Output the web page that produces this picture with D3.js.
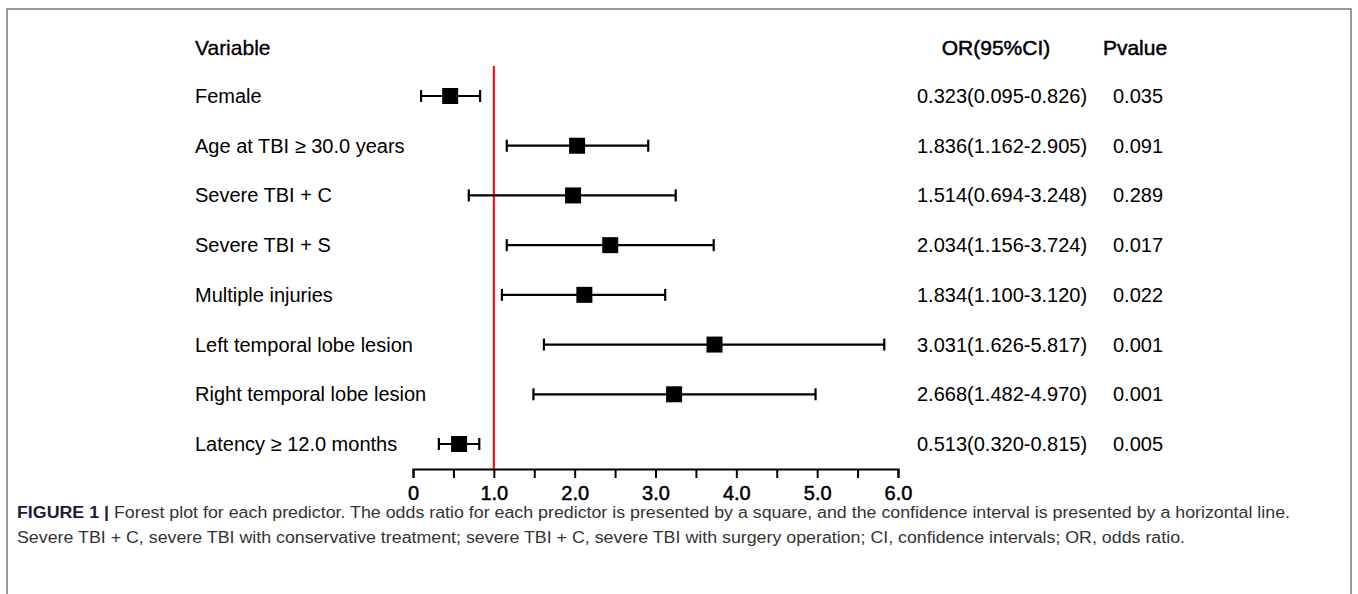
<!DOCTYPE html>
<html>
<head>
<meta charset="utf-8">
<script src="https://cdn.jsdelivr.net/npm/d3@7"></script>
<style>
  body { margin: 0; background: #fff; }
  svg text { font-family: "Liberation Sans", Arial, sans-serif; }
</style>
</head>
<body>
<div id="chart"></div>
<script>
// rows of the forest plot
var variables = ["Female", "Age at TBI \u2265 30.0 years", "Severe TBI + C", "Severe TBI + S",
  "Multiple injuries", "Left temporal lobe lesion", "Right temporal lobe lesion", "Latency \u2265 12.0 months"];
// square positions and CI ends as drawn
var orPlot = [0.46, 2.03, 1.98, 2.44, 2.12, 3.73, 3.23, 0.57];
var ciLow  = [0.10, 1.16, 0.69, 1.16, 1.10, 1.62, 1.49, 0.32];
var ciHigh = [0.83, 2.91, 3.25, 3.72, 3.12, 5.83, 4.98, 0.82];
// right-hand columns
var orText = ["0.323(0.095-0.826)", "1.836(1.162-2.905)", "1.514(0.694-3.248)", "2.034(1.156-3.724)",
  "1.834(1.100-3.120)", "3.031(1.626-5.817)", "2.668(1.482-4.970)", "0.513(0.320-0.815)"];
var pText = ["0.035", "0.091", "0.289", "0.017", "0.022", "0.001", "0.001", "0.005"];
var tickVals = [0, 0.5, 1, 1.5, 2, 2.5, 3, 3.5, 4, 4.5, 5, 5.5, 6];
var captionLines = [
  "Forest plot for each predictor. The odds ratio for each predictor is presented by a square, and the confidence interval is presented by a horizontal line.",
  "Severe TBI + C, severe TBI with conservative treatment; severe TBI + C, severe TBI with surgery operation; CI, confidence intervals; OR, odds ratio."
];

var W = 1358, H = 594;

var svg = d3.select("#chart").append("svg")
    .attr("width", W)
    .attr("height", H);

// figure frame
svg.append("rect")
    .attr("x", 7).attr("y", 9)
    .attr("width", 1344).attr("height", 620)
    .attr("fill", "none")
    .attr("stroke", "#777")
    .attr("stroke-width", 1.5);

var x = d3.scaleLinear().domain([0, 6]).range([413, 898]);
var y = d3.scalePoint().domain(variables).range([96, 444]);
var axisY = 469;

var data = variables.map(function(v, i) {
  return {name: v, or: orPlot[i], lo: ciLow[i], hi: ciHigh[i], ort: orText[i], p: pText[i]};
});

// headers
var headY = 48;
svg.append("text").attr("x", 195).attr("y", headY).attr("dy", "0.35em")
    .style("font-size", "21px").attr("stroke", "#000").attr("stroke-width", 0.3)
    .text("Variable");
svg.append("text").attr("x", 996).attr("y", headY).attr("dy", "0.35em")
    .attr("text-anchor", "middle")
    .style("font-size", "21px").attr("stroke", "#000").attr("stroke-width", 0.5)
    .text("OR(95%CI)");
svg.append("text").attr("x", 1135).attr("y", headY).attr("dy", "0.35em")
    .attr("text-anchor", "middle")
    .style("font-size", "21px").attr("stroke", "#000").attr("stroke-width", 0.5)
    .text("Pvalue");

// reference line at OR = 1
svg.append("line")
    .attr("x1", x(1)).attr("x2", x(1))
    .attr("y1", 66).attr("y2", axisY)
    .attr("stroke", "#f00")
    .attr("stroke-width", 2);

// axis
var axis = svg.append("g")
    .attr("transform", "translate(0," + axisY + ")")
    .call(d3.axisBottom(x)
      .tickValues(tickVals)
      .tickSize(9)
      .tickPadding(8)
      .tickFormat(function(d) { return d % 1 ? "" : (d === 0 ? "0" : d.toFixed(1)); }));
axis.selectAll("path, line").attr("stroke", "#000").attr("stroke-width", 2);
axis.selectAll("text")
    .style("font-size", "20px")
    .style("font-family", "'Liberation Sans', Arial, sans-serif")
    .attr("fill", "#000")
    .attr("stroke", "#000")
    .attr("stroke-width", 0.5);

var rows = svg.selectAll(".row")
    .data(data)
  .enter().append("g")
    .attr("class", "row")
    .attr("transform", function(d) { return "translate(0," + y(d.name) + ")"; });

rows.append("text")
    .attr("x", 195).attr("dy", "0.35em")
    .style("font-size", "20px")
    .text(function(d) { return d.name; });

rows.append("line")
    .attr("x1", function(d) { return x(d.lo); })
    .attr("x2", function(d) { return x(d.hi); })
    .attr("stroke", "#000").attr("stroke-width", 2.2);

rows.append("line")
    .attr("x1", function(d) { return x(d.lo); })
    .attr("x2", function(d) { return x(d.lo); })
    .attr("y1", -6).attr("y2", 6)
    .attr("stroke", "#000").attr("stroke-width", 2.2);

rows.append("line")
    .attr("x1", function(d) { return x(d.hi); })
    .attr("x2", function(d) { return x(d.hi); })
    .attr("y1", -6).attr("y2", 6)
    .attr("stroke", "#000").attr("stroke-width", 2.2);

rows.append("rect")
    .attr("x", function(d) { return x(d.or) - 8; })
    .attr("y", -8)
    .attr("width", 16).attr("height", 16)
    .attr("fill", "#000");

rows.append("text")
    .attr("x", 917).attr("dy", "0.35em")
    .style("font-size", "20px")
    .text(function(d) { return d.ort; });

rows.append("text")
    .attr("x", 1138).attr("dy", "0.35em")
    .attr("text-anchor", "middle")
    .style("font-size", "20px")
    .text(function(d) { return d.p; });

// caption
var cap1 = svg.append("text").attr("x", 17).attr("y", 518)
    .style("font-size", "16px").attr("fill", "#333");
cap1.append("tspan").style("font-weight", "bold").attr("fill", "#1b1b3a").text("FIGURE 1 | ");
cap1.append("tspan").text(captionLines[0]);
var cap2 = svg.append("text").attr("x", 17).attr("y", 543)
    .style("font-size", "16px").attr("fill", "#333")
    .text(captionLines[1]);

// squeeze caption to the narrow face width of the original
var k = 1273 / cap1.node().getComputedTextLength();
[cap1, cap2].forEach(function(t) {
  var len = t.node().getComputedTextLength();
  t.attr("textLength", len * k).attr("lengthAdjust", "spacingAndGlyphs");
});
</script>
</body>
</html>
